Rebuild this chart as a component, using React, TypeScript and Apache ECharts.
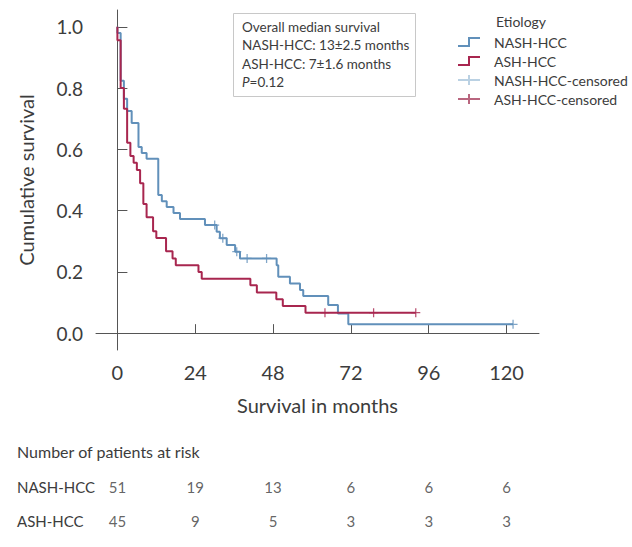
import React, { useEffect, useRef } from 'react';
import * as echarts from 'echarts';

// ---- data ----
const nashTimes = [0, 0, 1, 2, 3, 4.4, 6.5, 7.5, 9, 12.6, 13.7, 15.2, 17.3, 19.3, 27, 30.6, 31.6, 33.7, 36.3, 37.8, 49.1, 49.6, 53.2, 56.3, 57.3, 65, 68, 71.2, 122];
const nashSurv = [1, 0.98, 0.824, 0.765, 0.725, 0.686, 0.608, 0.588, 0.569, 0.451, 0.431, 0.412, 0.392, 0.373, 0.353, 0.331, 0.31, 0.288, 0.266, 0.244, 0.222, 0.184, 0.162, 0.141, 0.121, 0.092, 0.064, 0.029, 0.029];
const nashCensorTimes = [30, 32.5, 36.8, 40, 46, 122];
const nashCensorSurv = [0.353, 0.31, 0.266, 0.244, 0.244, 0.029];

const ashTimes = [0, 0, 1, 2, 3, 4, 5, 6, 7, 8, 9, 11, 12, 15, 17, 18, 25, 26, 41, 43, 49, 51, 58, 92];
const ashSurv = [1, 0.956, 0.8, 0.733, 0.622, 0.578, 0.556, 0.533, 0.489, 0.422, 0.378, 0.333, 0.311, 0.267, 0.244, 0.222, 0.2, 0.178, 0.156, 0.133, 0.111, 0.089, 0.067, 0.067];
const ashCensorTimes = [64, 79, 92];
const ashCensorSurv = [0.067, 0.067, 0.067];

const xTicks = [0, 24, 48, 72, 96, 120];
const yTicks = [0, 0.2, 0.4, 0.6, 0.8, 1.0];

const riskGroups = ['NASH-HCC', 'ASH-HCC'];
const nashRisk = [51, 19, 13, 6, 6, 6];
const ashRisk = [45, 9, 5, 3, 3, 3];

const BLUE = '#6190ba';
const RED = '#a8264f';
const TXT = '#3c3c3c';
const AX = '#555555';
const FONT = 'Lato, "Noto Sans", sans-serif';

const stepIcon = 'path://M0,8H10V0H22V2H12V10H0Z';
const crossIcon = 'path://M0,4H22V6H0Z M10,0H12V10H10Z';
const censorSymbol = 'path://M0,4.3H10V5.7H0Z M4.3,0H5.7V10H4.3Z';

const zip = (a: number[], b: number[]) => a.map((v, i) => [v, b[i]]);

export default function App() {
  const ref = useRef<HTMLDivElement>(null);
  useEffect(() => {
    const chart = echarts.init(ref.current as HTMLDivElement, null, { renderer: 'svg' });
    const option: any = {
      animation: false,
      backgroundColor: '#ffffff',
      textStyle: { fontFamily: FONT },
      title: {
        text: 'Etiology',
        left: 496,
        top: 14,
        padding: 0,
        textStyle: { fontSize: 14, fontWeight: 'normal', color: TXT, fontFamily: FONT },
      },
      legend: {
        orient: 'vertical',
        left: 458,
        top: 35,
        itemWidth: 22,
        itemHeight: 10,
        itemGap: 5,
        padding: 0,
        selectedMode: false,
        itemStyle: { borderWidth: 0 },
        textStyle: { fontSize: 14, color: TXT, fontFamily: FONT, padding: [0, 0, 0, 9] },
        data: [
          { name: 'NASH-HCC', icon: stepIcon },
          { name: 'ASH-HCC', icon: stepIcon },
          { name: 'NASH-HCC-censored', icon: crossIcon, itemStyle: { color: '#a9c5dc' } },
          { name: 'ASH-HCC-censored', icon: crossIcon, itemStyle: { color: '#a8405f' } },
        ],
      },
      grid: [
        { left: 96, top: 10, width: 443, height: 340 },
        { left: 96, top: 470, width: 443, height: 68 },
      ],
      xAxis: [
        {
          type: 'value',
          min: -6.6,
          max: 130,
          axisLine: { show: true, lineStyle: { color: AX, width: 1 } },
          axisTick: { show: true, inside: true, length: 9, customValues: xTicks, lineStyle: { color: AX } },
          axisLabel: { customValues: xTicks, fontSize: 20, color: TXT, margin: 12, fontFamily: FONT },
          splitLine: { show: false },
          name: 'Survival in months',
          nameLocation: 'middle',
          nameGap: 45,
          nameTextStyle: { fontSize: 20, color: TXT, fontFamily: FONT },
        },
        { type: 'value', gridIndex: 1, min: -6.6, max: 130, show: false },
      ],
      yAxis: [
        {
          type: 'value',
          min: -0.055,
          max: 1.055,
          axisLine: { show: true, lineStyle: { color: AX, width: 1 } },
          axisTick: { show: true, inside: true, length: 10, customValues: yTicks, lineStyle: { color: AX } },
          axisLabel: {
            customValues: yTicks,
            formatter: (v: number) => v.toFixed(1),
            fontSize: 19,
            color: TXT,
            margin: 13,
            fontFamily: FONT,
          },
          splitLine: { show: false },
          name: 'Cumulative survival',
          nameLocation: 'middle',
          nameGap: 60,
          nameTextStyle: { fontSize: 20, color: TXT, fontFamily: FONT },
        },
        {
          type: 'category',
          gridIndex: 1,
          data: riskGroups,
          inverse: true,
          axisLine: { show: false },
          axisTick: { show: false },
          axisLabel: { align: 'left', margin: 79, fontSize: 15, color: TXT, fontFamily: FONT },
        },
      ],
      graphic: [
        {
          type: 'rect',
          shape: { x: 233.5, y: 13.5, width: 182, height: 83 },
          style: { fill: '#ffffff', stroke: '#c8c8c8', lineWidth: 1 },
          z: 10,
        },
        {
          type: 'text',
          x: 242,
          y: 18,
          z: 11,
          style: {
            text: '{n|Overall median survival}\n{n|NASH-HCC: 13±2.5 months}\n{n|ASH-HCC: 7±1.6 months}\n{i|P}{n|=0.12}',
            fontSize: 13.5,
            fontFamily: FONT,
            fill: TXT,
            lineHeight: 18.3,
            rich: {
              n: { fontSize: 13.5, fontFamily: FONT, fill: TXT, lineHeight: 18.3 },
              i: { fontSize: 13.5, fontFamily: FONT, fill: TXT, fontStyle: 'italic', lineHeight: 18.3 },
            },
          },
        },
        {
          type: 'text',
          left: 17,
          top: 443,
          style: { text: 'Number of patients at risk', fontSize: 16, fontFamily: FONT, fill: TXT },
        },
      ],
      series: [
        {
          name: 'NASH-HCC',
          type: 'line',
          step: 'end',
          showSymbol: false,
          symbol: 'none',
          data: zip(nashTimes, nashSurv),
          lineStyle: { color: BLUE, width: 2 },
          itemStyle: { color: BLUE },
          z: 3,
        },
        {
          name: 'ASH-HCC',
          type: 'line',
          step: 'end',
          showSymbol: false,
          symbol: 'none',
          data: zip(ashTimes, ashSurv),
          lineStyle: { color: RED, width: 2 },
          itemStyle: { color: RED },
          z: 4,
        },
        {
          name: 'NASH-HCC-censored',
          type: 'scatter',
          symbol: censorSymbol,
          symbolSize: 9,
          data: zip(nashCensorTimes, nashCensorSurv),
          itemStyle: { color: BLUE },
          z: 5,
        },
        {
          name: 'ASH-HCC-censored',
          type: 'scatter',
          symbol: censorSymbol,
          symbolSize: 9,
          data: zip(ashCensorTimes, ashCensorSurv),
          itemStyle: { color: RED },
          z: 6,
        },
        {
          name: 'risk-nash',
          type: 'scatter',
          xAxisIndex: 1,
          yAxisIndex: 1,
          silent: true,
          symbolSize: 0.01,
          itemStyle: { color: 'transparent' },
          data: xTicks.map((t, i) => [t, riskGroups[0], nashRisk[i]]),
          label: { show: true, position: 'inside', formatter: (p: any) => String(p.value[2]), fontSize: 15, color: TXT, fontFamily: FONT },
        },
        {
          name: 'risk-ash',
          type: 'scatter',
          xAxisIndex: 1,
          yAxisIndex: 1,
          silent: true,
          symbolSize: 0.01,
          itemStyle: { color: 'transparent' },
          data: xTicks.map((t, i) => [t, riskGroups[1], ashRisk[i]]),
          label: { show: true, position: 'inside', formatter: (p: any) => String(p.value[2]), fontSize: 15, color: TXT, fontFamily: FONT },
        },
      ],
    };
    chart.setOption(option);
    return () => chart.dispose();
  }, []);
  return <div ref={ref} style={{ position: 'fixed', left: 0, top: 0, width: 632, height: 547 }} />;
}
